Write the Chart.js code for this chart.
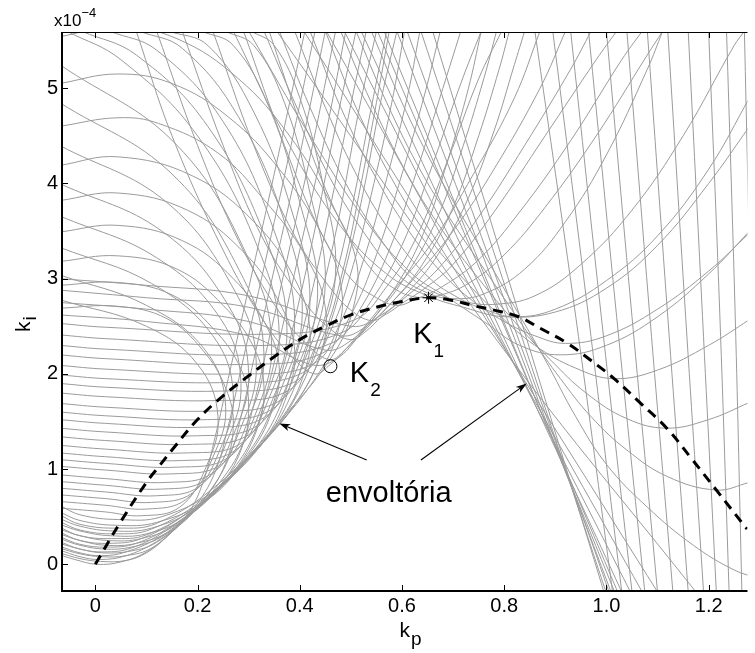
<!DOCTYPE html>
<html>
<head>
<meta charset="utf-8">
<script src="https://cdn.jsdelivr.net/npm/chart.js@4.4.1/dist/chart.umd.min.js"></script>
<style>
html, body { margin: 0; padding: 0; background: #fff; overflow: hidden; }
canvas { display: block; }
</style>
</head>
<body>
<canvas id="chart" width="755" height="653"></canvas>
<script>
// axes: kp on x, ki (x 1e-4) on y
const xRange = [-0.0652, 1.276];
const yRange = [-0.2805, 5.591];
const xTicks = [0, 0.2, 0.4, 0.6, 0.8, 1, 1.2];
const yTicks = [0, 1, 2, 3, 4, 5];

// dashed curve
const dashedKp = [0, 0.05, 0.1, 0.124, 0.15, 0.2, 0.25, 0.3, 0.35, 0.4, 0.45, 0.5, 0.55, 0.6, 0.652,
  0.7, 0.737, 0.78, 0.828, 0.87, 0.924, 0.97, 1.015, 1.065, 1.118, 1.165, 1.215, 1.275];
const dashedKi = [0, 0.45, 0.86, 1.025, 1.2, 1.52, 1.77, 1.98, 2.18, 2.36, 2.5, 2.62, 2.7, 2.76, 2.8,
  2.77, 2.72, 2.67, 2.6, 2.48, 2.32, 2.14, 1.95, 1.7, 1.43, 1.12, 0.78, 0.37];

const k1 = [0.652, 2.8];
const k2 = [0.46, 2.08];

// gray curve family as [kp, ki] points
const smallLoops = [
  [[-0.07,2.69],[0.044,2.71],[0.14,2.58],[0.21,2.25],[0.255,1.85],[0.27,1.45],[0.25,1.0],[0.2,0.6],[0.15,0.34],[0.1,0.13],[0.05,0.025],[0.003,0.0],[-0.04,0.05],[-0.07,0.10]],
  [[-0.07,2.93],[0.044,2.96],[0.15,2.83],[0.23,2.48],[0.285,2.05],[0.3,1.65],[0.285,1.2],[0.24,0.8],[0.18,0.49],[0.12,0.24],[0.06,0.09],[0.008,0.05],[-0.03,0.08],[-0.07,0.15]],
  [[-0.07,3.18],[0.044,3.24],[0.16,3.1],[0.25,2.72],[0.31,2.28],[0.33,1.85],[0.315,1.4],[0.27,0.97],[0.2,0.6],[0.13,0.3],[0.06,0.13],[0.012,0.09],[-0.03,0.12],[-0.07,0.19]],
  [[-0.07,3.49],[0.044,3.56],[0.17,3.4],[0.27,3.0],[0.335,2.5],[0.36,2.05],[0.345,1.6],[0.3,1.15],[0.22,0.7],[0.14,0.36],[0.07,0.17],[0.017,0.13],[-0.03,0.16],[-0.07,0.24]],
  [[-0.07,3.82],[0.044,3.9],[0.18,3.72],[0.29,3.28],[0.36,2.75],[0.39,2.25],[0.375,1.78],[0.33,1.3],[0.25,0.83],[0.16,0.44],[0.08,0.22],[0.022,0.18],[-0.03,0.21],[-0.07,0.29]],
  [[-0.07,4.19],[0.044,4.28],[0.19,4.08],[0.31,3.6],[0.39,3.0],[0.42,2.45],[0.405,1.95],[0.36,1.5],[0.28,1.0],[0.18,0.54],[0.09,0.27],[0.027,0.22],[-0.03,0.25],[-0.07,0.34]],
  [[-0.07,4.6],[0.044,4.69],[0.124,4.63],[0.24,4.32],[0.33,3.83],[0.41,3.25],[0.45,2.7],[0.44,2.2],[0.39,1.68],[0.3,1.13],[0.2,0.62],[0.1,0.31],[0.032,0.27],[-0.03,0.3],[-0.07,0.39]],
  [[-0.07,5.05],[0.044,5.15],[0.15,5.05],[0.26,4.7],[0.36,4.15],[0.44,3.5],[0.48,2.95],[0.475,2.45],[0.43,1.95],[0.33,1.3],[0.22,0.72],[0.11,0.37],[0.038,0.32],[-0.03,0.36],[-0.07,0.45]],
  [[-0.07,5.54],[0.044,5.65],[0.16,5.52],[0.28,5.1],[0.38,4.5],[0.46,3.8],[0.51,3.2],[0.505,2.7],[0.465,2.2],[0.36,1.5],[0.24,0.84],[0.12,0.43],[0.045,0.38],[-0.03,0.42],[-0.07,0.52]]
];

// bowls of the bottom-left cluster: hug the rising envelope, then climb steeply
const clusterLoops = [
  [[-0.07,0.12],[-0.03,0.06],[0.01,0.03],[0.06,0.04],[0.1,0.12],[0.14,0.29],[0.18,0.52],[0.21,0.85],[0.235,1.35],[0.26,1.95],[0.3,2.9],[0.35,4.1],[0.41,5.6]],
  [[-0.07,0.17],[-0.03,0.11],[0.012,0.08],[0.06,0.09],[0.11,0.17],[0.16,0.4],[0.2,0.64],[0.235,0.98],[0.26,1.45],[0.285,2.05],[0.325,3.0],[0.375,4.2],[0.43,5.6]],
  [[-0.07,0.22],[-0.03,0.16],[0.015,0.12],[0.07,0.14],[0.12,0.23],[0.18,0.5],[0.22,0.74],[0.26,1.1],[0.285,1.55],[0.31,2.15],[0.35,3.1],[0.4,4.3],[0.45,5.6]],
  [[-0.07,0.27],[-0.03,0.2],[0.018,0.16],[0.07,0.18],[0.13,0.29],[0.2,0.6],[0.245,0.87],[0.285,1.22],[0.31,1.68],[0.335,2.25],[0.375,3.2],[0.425,4.4],[0.47,5.6]],
  [[-0.07,0.32],[-0.03,0.25],[0.02,0.2],[0.08,0.22],[0.15,0.36],[0.22,0.7],[0.27,1.0],[0.31,1.36],[0.335,1.8],[0.36,2.35],[0.4,3.3],[0.45,4.5],[0.49,5.6]],
  [[-0.07,0.37],[-0.03,0.3],[0.025,0.25],[0.09,0.27],[0.16,0.42],[0.24,0.8],[0.29,1.1],[0.335,1.5],[0.36,1.92],[0.385,2.45],[0.425,3.4],[0.47,4.6],[0.51,5.6]],
  [[-0.07,0.42],[-0.03,0.35],[0.03,0.3],[0.1,0.32],[0.18,0.5],[0.26,0.9],[0.32,1.26],[0.36,1.64],[0.385,2.05],[0.41,2.55],[0.45,3.5],[0.495,4.7],[0.53,5.6]],
  [[-0.07,0.48],[-0.03,0.4],[0.035,0.35],[0.11,0.38],[0.2,0.6],[0.28,1.0],[0.34,1.36],[0.385,1.8],[0.41,2.2],[0.435,2.68],[0.475,3.6],[0.515,4.75],[0.55,5.6]],
  [[-0.07,0.55],[-0.03,0.46],[0.04,0.41],[0.12,0.44],[0.22,0.68],[0.3,1.12],[0.36,1.48],[0.41,1.95],[0.435,2.35],[0.46,2.8],[0.5,3.7],[0.54,4.8],[0.57,5.6]],
  [[-0.07,0.62],[-0.03,0.52],[0.045,0.47],[0.13,0.5],[0.24,0.8],[0.32,1.24],[0.38,1.6],[0.43,2.05],[0.455,2.45],[0.48,2.9],[0.52,3.8],[0.56,4.9],[0.59,5.6]]
];

const flatCurves = [
  [[-0.07,0.59],[0.02,0.55],[0.09,0.51],[0.165,0.6],[0.215,1.0],[0.24,1.55],[0.2,2.1],[0.1,2.5],[-0.07,2.78]],
  [[-0.07,0.66],[0.02,0.62],[0.1,0.58],[0.177,0.68],[0.228,1.1],[0.255,1.66],[0.215,2.25],[0.1,2.72],[-0.07,3.04]],
  [[-0.07,0.73],[0.02,0.69],[0.11,0.65],[0.19,0.75],[0.242,1.18],[0.27,1.78],[0.23,2.4],[0.11,2.95],[-0.07,3.33]],
  [[-0.07,0.8],[0.02,0.76],[0.12,0.72],[0.204,0.82],[0.255,1.26],[0.285,1.9],[0.245,2.58],[0.12,3.22],[-0.07,3.66]],
  [[-0.07,0.87],[0.02,0.83],[0.13,0.79],[0.217,0.89],[0.268,1.33],[0.3,2.0],[0.26,2.72],[0.13,3.5],[-0.07,4.0]],
  [[-0.07,0.94],[0.02,0.9],[0.14,0.86],[0.23,0.96],[0.282,1.4],[0.315,2.1],[0.275,2.85],[0.14,3.8],[-0.07,4.4]],
  [[-0.07,1.03],[0.02,0.99],[0.15,0.95],[0.247,1.05],[0.298,1.5],[0.33,2.2],[0.29,3.0],[0.15,4.1],[-0.07,4.85]],
  [[-0.07,1.1],[0.02,1.06],[0.16,1.02],[0.26,1.12],[0.312,1.56],[0.345,2.3],[0.305,3.15],[0.16,4.4],[-0.07,5.25]],
  [[-0.07,1.17],[0.02,1.13],[0.17,1.09],[0.272,1.19],[0.324,1.63],[0.36,2.38],[0.32,3.3],[0.2,4.5],[0.05,5.3],[-0.056,5.6]],
  [[-0.07,1.25],[0.02,1.21],[0.18,1.17],[0.285,1.27],[0.337,1.71],[0.375,2.45],[0.335,3.4],[0.22,4.6],[0.08,5.35],[-0.027,5.6]],
  [[-0.07,1.34],[0.02,1.3],[0.19,1.26],[0.3,1.36],[0.352,1.8],[0.39,2.55],[0.35,3.5],[0.25,4.65],[0.12,5.4],[0.028,5.6]],
  [[-0.07,1.43],[0.02,1.39],[0.2,1.35],[0.315,1.45],[0.367,1.89],[0.405,2.65],[0.37,3.6],[0.28,4.7],[0.17,5.42],[0.086,5.6]],
  [[-0.07,1.52],[0.02,1.48],[0.21,1.44],[0.33,1.54],[0.382,1.98],[0.42,2.75],[0.385,3.7],[0.31,4.75],[0.22,5.45],[0.144,5.6]],
  [[-0.07,1.6],[0.02,1.56],[0.22,1.52],[0.343,1.62],[0.395,2.06],[0.435,2.85],[0.4,3.8],[0.34,4.8],[0.27,5.45],[0.208,5.6]],
  [[-0.07,1.69],[0.02,1.65],[0.23,1.61],[0.358,1.71],[0.41,2.15],[0.45,2.95],[0.42,3.9],[0.37,4.85],[0.31,5.45],[0.254,5.6]],
  [[-0.07,1.8],[0.02,1.76],[0.24,1.72],[0.376,1.82],[0.428,2.26],[0.47,3.05],[0.445,4.0],[0.4,4.9],[0.35,5.45],[0.305,5.6]],
  [[-0.07,1.9],[0.02,1.86],[0.25,1.82],[0.391,1.92],[0.443,2.36],[0.485,3.1],[0.52,4.0],[0.55,4.85],[0.575,5.6]],
  [[-0.07,1.99],[0.02,1.95],[0.26,1.91],[0.405,2.01],[0.46,2.45],[0.505,3.15],[0.545,4.0],[0.58,4.85],[0.605,5.6]],
  [[-0.07,2.09],[0.02,2.05],[0.28,2.0],[0.425,2.1],[0.478,2.52],[0.525,3.2],[0.57,4.05],[0.61,4.9],[0.635,5.6]],
  [[-0.07,2.2],[0.02,2.16],[0.3,2.1],[0.445,2.22],[0.498,2.6],[0.55,3.25],[0.6,4.1],[0.645,4.95],[0.675,5.6]],
  [[-0.07,2.3],[0.02,2.26],[0.32,2.2],[0.465,2.33],[0.518,2.68],[0.575,3.3],[0.63,4.15],[0.68,5.0],[0.715,5.6]],
  [[-0.07,2.41],[0.02,2.37],[0.34,2.3],[0.485,2.44],[0.54,2.77],[0.6,3.35],[0.66,4.2],[0.715,5.05],[0.755,5.6]],
  [[-0.07,2.53],[0.02,2.49],[0.36,2.42],[0.508,2.57],[0.565,2.88],[0.625,3.4],[0.69,4.25],[0.75,5.1],[0.795,5.6]],
  [[-0.07,2.62],[0.1,2.55],[0.3,2.4],[0.42,2.1],[0.47,2.15],[0.52,2.43],[0.58,2.85],[0.64,3.45],[0.69,4.25],[0.73,5.0],[0.755,5.6]],
  [[-0.07,2.75],[0.1,2.68],[0.3,2.55],[0.45,2.25],[0.5,2.35],[0.55,2.62],[0.61,3.05],[0.67,3.65],[0.72,4.4],[0.76,5.1],[0.785,5.6]],
  [[-0.07,2.88],[0.1,2.8],[0.3,2.7],[0.48,2.4],[0.53,2.5],[0.58,2.75],[0.64,3.15],[0.7,3.75],[0.75,4.5],[0.79,5.2],[0.81,5.6]],
  [[-0.07,3.0],[0.1,2.93],[0.3,2.82],[0.5,2.5],[0.56,2.62],[0.61,2.85],[0.67,3.25],[0.73,3.85],[0.78,4.55],[0.82,5.25],[0.84,5.6]]
];

const fanCurves = [
  [[0.08,5.6],[0.15,4.5],[0.25,3.3],[0.33,2.55],[0.39,2.15],[0.43,2.0],[0.46,2.1],[0.48,2.2],[0.52,2.45],[0.58,2.85],[0.655,3.35],[0.74,4.1],[0.82,4.9],[0.87,5.6]],
  [[0.12,5.6],[0.2,4.4],[0.28,3.4],[0.36,2.65],[0.42,2.28],[0.46,2.15],[0.49,2.26],[0.52,2.42],[0.56,2.64],[0.62,2.98],[0.7,3.5],[0.78,4.15],[0.87,5.0],[0.92,5.6]],
  [[0.17,5.6],[0.25,4.4],[0.33,3.4],[0.41,2.75],[0.46,2.47],[0.5,2.36],[0.53,2.45],[0.56,2.6],[0.61,2.82],[0.67,3.1],[0.75,3.65],[0.84,4.4],[0.93,5.2],[0.97,5.6]],
  [[0.23,5.6],[0.31,4.4],[0.39,3.45],[0.46,2.9],[0.5,2.67],[0.54,2.56],[0.57,2.63],[0.6,2.74],[0.645,2.9],[0.7,3.15],[0.78,3.7],[0.88,4.5],[0.98,5.3],[1.02,5.6]],
  [[0.29,5.6],[0.37,4.4],[0.44,3.5],[0.5,3.0],[0.55,2.8],[0.59,2.72],[0.625,2.78],[0.68,2.92],[0.75,3.2],[0.83,3.7],[0.93,4.45],[1.03,5.3],[1.07,5.6]],
  [[0.34,5.6],[0.41,4.5],[0.48,3.6],[0.54,3.1],[0.59,2.88],[0.63,2.805],[0.67,2.82],[0.73,2.95],[0.8,3.25],[0.88,3.75],[0.98,4.5],[1.08,5.35],[1.11,5.6]]
];

const rightUCurves = [
  [[0.27,5.6],[0.38,4.4],[0.48,3.55],[0.57,3.05],[0.65,2.82],[0.72,2.7],[0.8,2.6],[0.9,2.65],[1.0,2.9],[1.1,3.35],[1.2,4.0],[1.28,4.6]],
  [[0.3,5.6],[0.42,4.5],[0.53,3.6],[0.62,3.05],[0.69,2.8],[0.76,2.55],[0.83,2.3],[0.91,2.2],[1.0,2.3],[1.1,2.6],[1.2,3.05],[1.28,3.5]],
  [[0.33,5.6],[0.39,4.85],[0.46,4.05],[0.53,3.45],[0.59,3.05],[0.65,2.85],[0.7,2.79],[0.76,2.84],[0.84,3.1],[0.92,3.6],[1.0,4.3],[1.08,5.2],[1.11,5.6]],
  [[0.36,5.6],[0.42,4.8],[0.49,4.0],[0.56,3.4],[0.62,3.0],[0.67,2.84],[0.72,2.76],[0.78,2.73],[0.86,2.82],[0.95,3.15],[1.05,3.72],[1.15,4.5],[1.25,5.45],[1.27,5.6]],
  [[0.39,5.6],[0.45,4.8],[0.52,4.0],[0.59,3.4],[0.655,3.0],[0.71,2.8],[0.76,2.68],[0.82,2.6],[0.9,2.68],[1.0,2.98],[1.1,3.45],[1.2,4.15],[1.28,4.9]],
  [[0.42,5.6],[0.48,4.8],[0.55,4.05],[0.62,3.45],[0.68,3.05],[0.74,2.76],[0.8,2.55],[0.86,2.4],[0.92,2.32],[1.0,2.4],[1.1,2.68],[1.2,3.08],[1.28,3.48]],
  [[0.45,5.6],[0.51,4.8],[0.58,4.05],[0.65,3.45],[0.72,3.0],[0.79,2.62],[0.86,2.3],[0.94,2.06],[1.015,1.95],[1.1,2.04],[1.2,2.3],[1.28,2.57]],
  [[0.48,5.6],[0.54,4.85],[0.61,4.1],[0.68,3.5],[0.75,3.0],[0.82,2.55],[0.89,2.15],[0.96,1.8],[1.04,1.53],[1.118,1.43],[1.2,1.52],[1.28,1.7]],
  [[0.51,5.6],[0.57,4.85],[0.64,4.1],[0.71,3.5],[0.78,2.95],[0.85,2.4],[0.91,1.95],[0.97,1.55],[1.04,1.2],[1.12,0.92],[1.215,0.78],[1.28,0.86]],
  [[0.54,5.6],[0.6,4.85],[0.67,4.1],[0.74,3.45],[0.81,2.8],[0.88,2.15],[0.94,1.55],[1.0,1.05],[1.08,0.6],[1.17,0.2],[1.25,-0.06],[1.3,-0.15]]
];

const fallingLines = [
  [[0.355,5.6],[0.8,2.25],[1.175,-0.29]],
  [[0.408,5.6],[0.82,2.1],[1.1,-0.29]],
  [[0.452,5.6],[0.84,1.9],[1.07,-0.29]],
  [[0.487,5.6],[0.86,1.68],[1.047,-0.29]],
  [[0.52,5.6],[0.88,1.45],[1.03,-0.29]],
  [[0.552,5.6],[0.9,1.25],[1.022,-0.29]],
  [[0.565,5.6],[0.92,0.97],[1.016,-0.29]],
  [[0.59,5.6],[0.94,0.69],[1.009,-0.29]],
  [[0.61,5.6],[0.96,0.4],[1.005,-0.29]],
  [[0.637,5.6],[0.975,0.1],[0.999,-0.29]],
  [[0.66,5.6],[0.99,-0.2],[0.995,-0.29]]
];

const steepLines = [
  [[0.86,5.6],[0.94,2.6],[1.012,-0.29]],
  [[0.895,5.6],[0.965,2.6],[1.03,-0.29]],
  [[0.93,5.6],[0.99,2.6],[1.05,-0.29]],
  [[0.965,5.6],[1.02,2.6],[1.075,-0.29]],
  [[1.0,5.6],[1.05,2.6],[1.1,-0.29]],
  [[1.04,5.6],[1.085,2.6],[1.13,-0.29]],
  [[1.08,5.6],[1.12,2.6],[1.16,-0.29]],
  [[1.12,5.6],[1.155,2.6],[1.19,-0.29]],
  [[1.16,5.6],[1.188,2.6],[1.215,-0.29]],
  [[1.2,5.6],[1.222,2.6],[1.24,-0.29]],
  [[1.235,5.6],[1.252,2.6],[1.265,-0.29]],
  [[1.27,5.6],[1.282,2.6],[1.29,-0.29]]
];

// annotation placement (data units)
const notes = {
  k1Text: [0.622, 2.325],
  k2Text: [0.498, 1.915],
  envText: [0.451, 0.654],
  arrowL: [[0.531, 1.095], [0.36, 1.48]],
  arrowR: [[0.637, 1.095], [0.844, 1.9]]
};

const FONT = '"Liberation Sans", Arial, Helvetica, sans-serif';
const GRAY = 'rgb(155,155,155)';

const toXY = pts => pts.map(p => ({ x: p[0], y: p[1] }));

const grayCurves = [].concat(smallLoops, clusterLoops, flatCurves, fanCurves, rightUCurves, fallingLines, steepLines);
const datasets = grayCurves.map(c => ({
  data: toXY(c),
  showLine: true,
  borderColor: GRAY,
  borderWidth: 1,
  pointRadius: 0,
  tension: 0.4,
  order: 3
}));

datasets.push({
  data: dashedKp.map((x, i) => ({ x: x, y: dashedKi[i] })),
  showLine: true,
  borderColor: '#000',
  borderWidth: 3,
  borderDash: [10, 7],
  pointRadius: 0,
  tension: 0.4,
  order: 2
});
datasets.push({
  data: [{ x: k1[0], y: k1[1] }],
  pointStyle: 'star',
  pointRadius: 6,
  borderColor: '#000',
  borderWidth: 1,
  order: 1
});
datasets.push({
  data: [{ x: k2[0], y: k2[1] }],
  pointStyle: 'circle',
  pointRadius: 6.5,
  backgroundColor: 'rgba(0,0,0,0)',
  borderColor: '#000',
  borderWidth: 1,
  order: 1
});

function subText(ctx, x, y, main, sub, mainSize, subSize, dy) {
  ctx.font = mainSize + 'px ' + FONT;
  ctx.fillText(main, x, y);
  const w = ctx.measureText(main).width;
  ctx.font = subSize + 'px ' + FONT;
  ctx.fillText(sub, x + w + 1, y + dy);
}

function arrow(ctx, x0, y0, x1, y1) {
  const a = Math.atan2(y1 - y0, x1 - x0);
  const len = 11, half = 3.6;
  const bx = x1 - len * Math.cos(a), by = y1 - len * Math.sin(a);
  ctx.beginPath();
  ctx.moveTo(x0, y0);
  ctx.lineTo(bx + 3 * Math.cos(a), by + 3 * Math.sin(a));
  ctx.stroke();
  ctx.beginPath();
  ctx.moveTo(x1, y1);
  ctx.lineTo(bx - half * Math.sin(a), by + half * Math.cos(a));
  ctx.lineTo(bx + 3 * Math.cos(a), by + 3 * Math.sin(a));
  ctx.lineTo(bx + half * Math.sin(a), by - half * Math.cos(a));
  ctx.closePath();
  ctx.fill();
}

const decor = {
  id: 'decor',
  afterDatasetsDraw(chart) {
    const { ctx, chartArea: a, scales } = chart;
    const sx = scales.x, sy = scales.y;
    const px = v => sx.getPixelForValue(v);
    const py = v => sy.getPixelForValue(v);
    ctx.save();
    ctx.strokeStyle = '#000';
    ctx.fillStyle = '#000';

    // frame
    ctx.lineWidth = 1;
    ctx.beginPath();
    ctx.moveTo(a.left, a.top + 0.5);
    ctx.lineTo(a.right, a.top + 0.5);
    ctx.stroke();
    ctx.lineWidth = 2;
    ctx.beginPath();
    ctx.moveTo(a.left, a.top);
    ctx.lineTo(a.left, a.bottom);
    ctx.lineTo(a.right, a.bottom);
    ctx.stroke();

    // inward ticks
    ctx.lineWidth = 1;
    ctx.beginPath();
    xTicks.forEach(v => {
      const x = Math.round(px(v)) + 0.5;
      ctx.moveTo(x, a.bottom);
      ctx.lineTo(x, a.bottom - 6);
      ctx.moveTo(x, a.top);
      ctx.lineTo(x, a.top + 6);
    });
    yTicks.forEach(v => {
      const y = Math.round(py(v)) + 0.5;
      ctx.moveTo(a.left, y);
      ctx.lineTo(a.left + 6, y);
    });
    ctx.stroke();

    // exponent
    ctx.textBaseline = 'alphabetic';
    ctx.textAlign = 'left';
    ctx.font = '17px ' + FONT;
    ctx.fillText('x10', a.left - 8, 26);
    const w = ctx.measureText('x10').width;
    ctx.font = '13px ' + FONT;
    ctx.fillText('\u22124', a.left - 8 + w, 17);

    // axis titles
    subText(ctx, px(0.595), 637, 'k', 'p', 21, 19, 8);
    ctx.save();
    ctx.translate(30, 332);
    ctx.rotate(-Math.PI / 2);
    subText(ctx, 0, 0, 'k', 'i', 21, 19, 6);
    ctx.restore();

    // annotations
    subText(ctx, px(notes.k1Text[0]), py(notes.k1Text[1]), 'K', '1', 29, 19, 14);
    subText(ctx, px(notes.k2Text[0]), py(notes.k2Text[1]), 'K', '2', 29, 19, 14);
    ctx.font = '29px ' + FONT;
    ctx.fillText('envolt\u00f3ria', px(notes.envText[0]), py(notes.envText[1]));

    ctx.lineWidth = 1.1;
    [notes.arrowL, notes.arrowR].forEach(([t, h]) => {
      arrow(ctx, px(t[0]), py(t[1]), px(h[0]), py(h[1]));
    });
    ctx.restore();
  }
};

new Chart(document.getElementById('chart'), {
  type: 'scatter',
  data: { datasets: datasets },
  options: {
    responsive: false,
    animation: false,
    devicePixelRatio: 1,
    events: [],
    layout: { padding: { top: 32, right: 0, left: 0, bottom: 0 } },
    elements: { line: { capBezierPoints: false } },
    plugins: { legend: { display: false }, tooltip: { enabled: false } },
    scales: {
      x: {
        type: 'linear',
        min: xRange[0],
        max: xRange[1],
        afterFit: s => { s.height = 62; },
        afterBuildTicks: s => { s.ticks = xTicks.map(v => ({ value: v })); },
        grid: { display: false, drawTicks: false },
        border: { display: false },
        ticks: { color: '#000', font: { family: FONT, size: 20 }, padding: 3, maxRotation: 0, autoSkip: false }
      },
      y: {
        type: 'linear',
        min: yRange[0],
        max: yRange[1],
        afterFit: s => { s.width = 62; },
        afterBuildTicks: s => { s.ticks = yTicks.map(v => ({ value: v })); },
        grid: { display: false, drawTicks: false },
        border: { display: false },
        ticks: { color: '#000', font: { family: FONT, size: 20 }, padding: 4, autoSkip: false }
      }
    }
  },
  plugins: [decor]
});
</script>
</body>
</html>
